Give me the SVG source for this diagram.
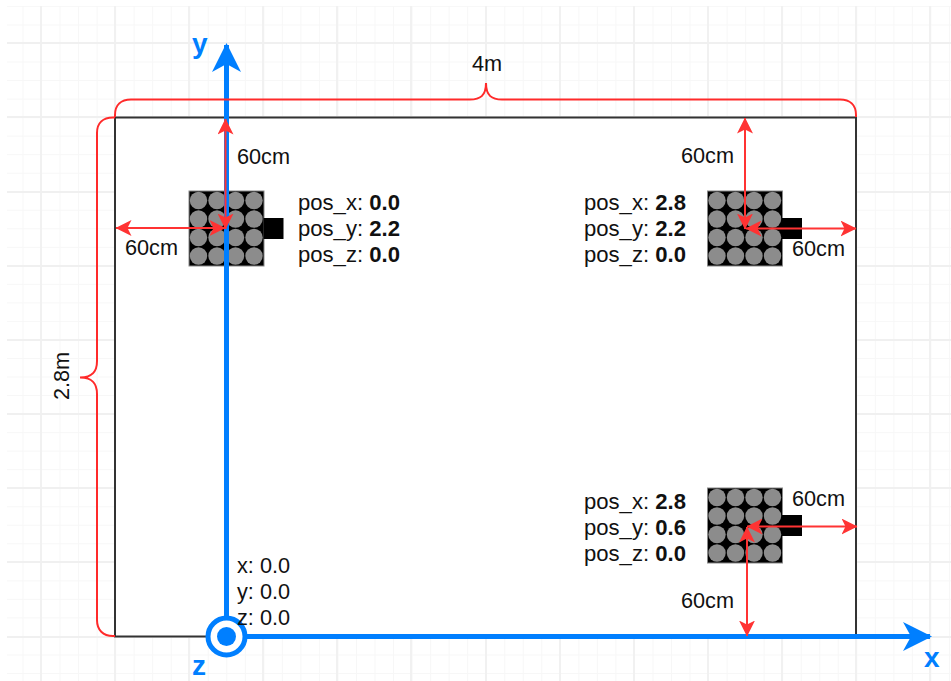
<svg xmlns="http://www.w3.org/2000/svg" width="951" height="681" viewBox="0 0 951 681">
<style>
text{font-family:"Liberation Sans",Arial,sans-serif;font-size:21.7px;fill:#111}
.pos{font-size:22.1px}
tspan.b{font-weight:700}
text.axl{font-weight:700;font-size:28px;fill:#007fff}
.red{fill:none;stroke:#ff3333;stroke-width:2}
.brace{fill:none;stroke:#ff2a2a;stroke-width:2}
.ax{fill:none;stroke:#007fff;stroke-width:5}
.gmaj{stroke:#f0f0f0;stroke-width:1.8;fill:none}
.dev{fill:#000;stroke:#888;stroke-width:1}
.led{fill:#8c8c8c}
</style>
<defs>
<pattern id="gm" x="3.94" y="5.94" width="18.53" height="18.53" patternUnits="userSpaceOnUse">
<path d="M0 0V18.53M0 0H18.53" fill="none" stroke="#f7f7f7" stroke-width="2"/>
</pattern>
<marker id="ah" viewBox="0 0 16 16" refX="15.5" refY="8" markerWidth="16" markerHeight="16" markerUnits="userSpaceOnUse" orient="auto-start-reverse">
<path d="M0 0L16 8L0 16L4 8Z" fill="#ff3333"/>
</marker>
<marker id="bh" viewBox="0 0 29 29" refX="27" refY="14.5" markerWidth="29" markerHeight="29" markerUnits="userSpaceOnUse" orient="auto">
<path d="M0 0L29 14.5L0 29L8 14.5Z" fill="#007fff"/>
</marker>
<g id="ledarr">
<rect class="dev" x="0" y="0" width="75" height="75"/>
<circle class="led" cx="9.500" cy="9.500" r="8.700"/><circle class="led" cx="28" cy="9.500" r="8.700"/><circle class="led" cx="46.500" cy="9.500" r="8.700"/><circle class="led" cx="65" cy="9.500" r="8.700"/>
<circle class="led" cx="9.500" cy="28" r="8.700"/><circle class="led" cx="28" cy="28" r="8.700"/><circle class="led" cx="46.500" cy="28" r="8.700"/><circle class="led" cx="65" cy="28" r="8.700"/>
<circle class="led" cx="9.500" cy="46.500" r="8.700"/><circle class="led" cx="28" cy="46.500" r="8.700"/><circle class="led" cx="46.500" cy="46.500" r="8.700"/><circle class="led" cx="65" cy="46.500" r="8.700"/>
<circle class="led" cx="9.500" cy="65" r="8.700"/><circle class="led" cx="28" cy="65" r="8.700"/><circle class="led" cx="46.500" cy="65" r="8.700"/><circle class="led" cx="65" cy="65" r="8.700"/>
<rect x="74.500" y="27" width="20" height="21" fill="#000"/>
</g>
</defs>
<rect width="951" height="681" fill="#fff"/>
<g id="grid">
<rect x="7" y="6" width="944" height="675" fill="url(#gm)"/>
<path class="gmaj" d="M41 6V681M115 6V681M189 6V681M263 6V681M337 6V681M411 6V681M486 6V681M560 6V681M634 6V681M708 6V681M782 6V681M856 6V681M930 6V681M7 43H951M7 117H951M7 192H951M7 266H951M7 340H951M7 414H951M7 488H951M7 562H951M7 637H951"/>
</g>
<g id="room"><rect x="115" y="117.500" width="741" height="519" fill="#fff" stroke="#333" stroke-width="2"/></g>
<g id="sensor-1"><use href="#ledarr" x="189" y="191"/>
<text class="pos" x="298" y="210">pos_x: <tspan class="b">0.0</tspan></text><text class="pos" x="298" y="236">pos_y: <tspan class="b">2.2</tspan></text><text class="pos" x="298" y="262">pos_z: <tspan class="b">0.0</tspan></text></g>
<g id="sensor-2"><use href="#ledarr" x="707.500" y="191"/>
<text class="pos" x="584" y="210">pos_x: <tspan class="b">2.8</tspan></text><text class="pos" x="584" y="236">pos_y: <tspan class="b">2.2</tspan></text><text class="pos" x="584" y="262">pos_z: <tspan class="b">0.0</tspan></text></g>
<g id="sensor-3"><use href="#ledarr" x="707.500" y="488"/>
<text class="pos" x="584" y="509">pos_x: <tspan class="b">2.8</tspan></text><text class="pos" x="584" y="535">pos_y: <tspan class="b">0.6</tspan></text><text class="pos" x="584" y="561">pos_z: <tspan class="b">0.0</tspan></text></g>
<g id="connectors">
<path class="ax" d="M226.500 632V45" marker-end="url(#bh)"/>
<path class="ax" d="M226 636.500H930" marker-end="url(#bh)"/>
<path class="brace" d="M115 117V115C115 105 121 99.500 131 99.500H470C480 99.500 486 96 486 83C486 96 492 99.500 502 99.500H840C850 99.500 856 105 856 115V117"/>
<path class="brace" d="M115 117.500H113C103 117.500 97 123 97 133V361C97 371 93 377.500 80 377.500C93 377.500 97 384 97 394V620C97 630 103 636 113 636H115"/>
<path class="red" d="M225.500 119V229" marker-start="url(#ah)" marker-end="url(#ah)"/>
<path class="red" d="M116 228H225" marker-start="url(#ah)" marker-end="url(#ah)"/>
<path class="red" d="M745 118V229" marker-start="url(#ah)" marker-end="url(#ah)"/>
<path class="red" d="M746 228.500H856" marker-start="url(#ah)" marker-end="url(#ah)"/>
<path class="red" d="M747 526.500H857" marker-start="url(#ah)" marker-end="url(#ah)"/>
<path class="red" d="M747 527V636" marker-start="url(#ah)" marker-end="url(#ah)"/>
</g>
<g id="origin">
<circle cx="226.500" cy="636.500" r="18.500" fill="#fff" stroke="#007fff" stroke-width="5"/>
<circle cx="226.500" cy="636.500" r="9.500" fill="#007fff"/>
<text x="237" y="573">x: 0.0</text><text x="237" y="599">y: 0.0</text><text x="237" y="625">z: 0.0</text>
</g>
<g id="labels">
<text x="237" y="164">60cm</text>
<text x="125" y="255">60cm</text>
<text x="681" y="163">60cm</text>
<text x="792" y="256">60cm</text>
<text x="792" y="506">60cm</text>
<text x="681" y="608">60cm</text>
<text x="472" y="71">4m</text>
<text transform="translate(69 376) rotate(-90)" text-anchor="middle">2.8m</text>
<text class="axl" x="192" y="53">y</text>
<text class="axl" x="924" y="667">x</text>
<text class="axl" x="192" y="675">z</text>
</g>
</svg>
